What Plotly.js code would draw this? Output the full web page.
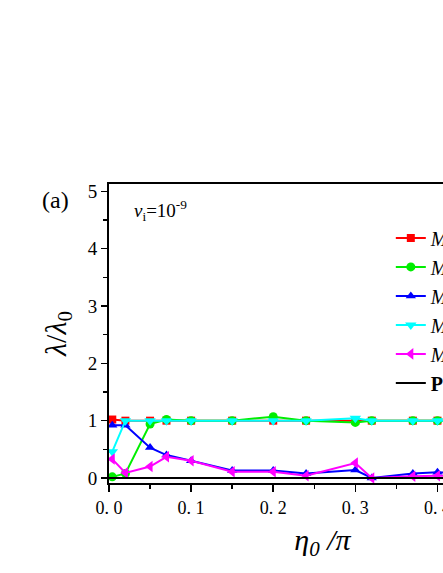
<!DOCTYPE html>
<html><head><meta charset="utf-8">
<script src="https://cdn.plot.ly/plotly-3.0.1.min.js"></script>
<style>html,body{margin:0;padding:0;overflow:hidden;background:#fff}#c{width:580px;height:573px}</style>
</head><body><div id="c"></div>
<script>
const eta = [0.004, 0.02, 0.05, 0.07, 0.1, 0.15, 0.2, 0.24, 0.3, 0.32, 0.37, 0.4, 0.45, 0.5];
const seriesNames = ["<i>M</i>=0.01", "<i>M</i>=0.1", "<i>M</i>=0.5", "<i>M</i>=1", "<i>M</i>=5", "<b>P-M</b>"];
const redVals     = [1.02, 1.0, 1.0, 1.0, 1.0, 1.0, 1.0, 1.0, 1.0, 1.0, 1.0, 1.0, 1.0, 1.0];
const greenVals   = [0.02, 0.08, 0.94, 1.02, 1.0, 1.0, 1.07, 1.0, 0.97, 1.0, 1.0, 1.0, 1.0, 1.0];
const blueVals    = [0.92, 0.92, 0.53, 0.40, 0.30, 0.13, 0.13, 0.08, 0.14, 0.0, 0.08, 0.10, 0.08, 0.08];
const cyanVals    = [0.46, 1.0, 1.0, 1.0, 1.0, 1.0, 1.0, 1.0, 1.04, 1.0, 1.0, 1.0, 1.0, 1.0];
const magentaVals = [0.33, 0.09, 0.20, 0.37, 0.30, 0.11, 0.11, 0.04, 0.26, 0.0, 0.03, 0.04, 0.04, 0.04];
const pLineX = [0, 0.52];
const pLineY = [0, 0];
const xTickVals = [0, 0.1, 0.2, 0.3, 0.4, 0.5];
const xTickText = ["0. 0", "0. 1", "0. 2", "0. 3", "0. 4", "0. 5"];
const yTickVals = [0, 1, 2, 3, 4, 5];

const colors = ["#ff0000", "#00ee00", "#0000ff", "#00ffff", "#ff00ff", "#000000"];
const symbols = ["square", "circle", "triangle-up", "triangle-down", "triangle-left"];
const sizes = [8, 9, 9, 10, 10];
const vals = [redVals, greenVals, blueVals, cyanVals, magentaVals];
const traces = vals.map((v, i) => ({
  x: eta, y: v, type: "scatter", mode: "lines+markers", name: seriesNames[i],
  line: {color: colors[i], width: 2},
  marker: {color: colors[i], symbol: symbols[i], size: sizes[i]}
}));
traces.push({x: pLineX, y: pLineY, type: "scatter", mode: "lines", name: seriesNames[5],
  line: {color: "#000", width: 2}});

const serif = "Liberation Serif, Times New Roman, serif";
const layout = {
  width: 580, height: 573,
  margin: {l: 109, r: 44, t: 184, b: 90},
  paper_bgcolor: "#fff", plot_bgcolor: "#fff",
  font: {family: serif, color: "#000"},
  showlegend: true,
  legend: {x: 0.66, y: 0.885, xanchor: "left", yanchor: "top", bgcolor: "rgba(0,0,0,0)",
    font: {family: serif, size: 20, color: "#000"}, itemwidth: 30},
  xaxis: {range: [0, 0.52], showline: true, linewidth: 2, linecolor: "#000", mirror: true,
    showgrid: false, zeroline: false, ticks: "outside", ticklen: 7, tickwidth: 1.5, tickcolor: "#000",
    tickvals: xTickVals, ticktext: xTickText, tickfont: {family: serif, size: 18},
    minor: {dtick: 0.05, ticks: "outside", ticklen: 4, tickwidth: 1.5, tickcolor: "#000"},
    title: {text: "<i>η<sub>0</sub> /π</i>", font: {family: serif, size: 30}, standoff: 12}},
  yaxis: {range: [-0.087, 5.127], showline: true, linewidth: 2, linecolor: "#000", mirror: true,
    showgrid: false, zeroline: false, ticks: "outside", ticklen: 6, tickwidth: 1.5, tickcolor: "#000",
    tickvals: yTickVals, tickfont: {family: serif, size: 19},
    minor: {dtick: 0.5, ticks: "outside", ticklen: 4, tickwidth: 1.5, tickcolor: "#000"},
    title: {text: "<i>λ</i>/<i>λ</i><sub>0</sub>", font: {family: serif, size: 30}, standoff: 12}},
  annotations: [
    {xref: "paper", yref: "paper", x: -0.162, y: 0.948, yanchor: "middle", text: "(a)", showarrow: false,
     font: {family: serif, size: 24}},
    {xref: "paper", yref: "paper", x: 0.055, y: 0.91, xanchor: "left", yanchor: "middle",
     text: "<i>v</i><sub>i</sub>=10<sup>-9</sup>", showarrow: false, font: {family: serif, size: 19}}
  ]
};
Plotly.newPlot("c", traces, layout, {displayModeBar: false, staticPlot: true});
</script></body></html>
